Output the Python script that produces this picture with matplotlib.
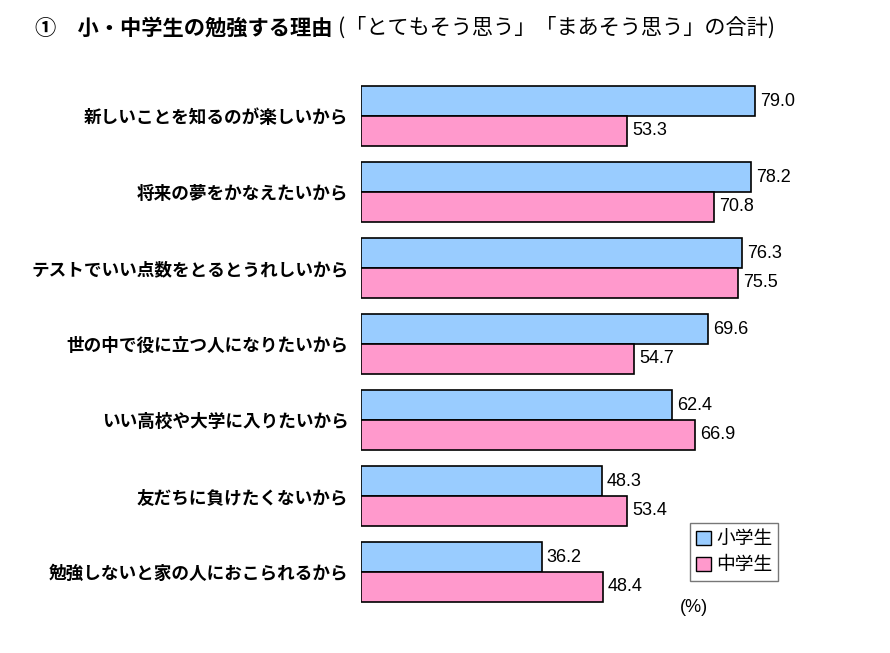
import matplotlib
matplotlib.use("Agg")
import matplotlib.pyplot as plt
from matplotlib.patches import Patch

plt.rcParams['font.family'] = ['Noto Sans CJK JP', 'DejaVu Sans']

categories = ["新しいことを知るのが楽しいから", "将来の夢をかなえたいから",
              "テストでいい点数をとるとうれしいから", "世の中で役に立つ人になりたいから",
              "いい高校や大学に入りたいから", "友だちに負けたくないから",
              "勉強しないと家の人におこられるから"]
elementary = [79.0, 78.2, 76.3, 69.6, 62.4, 48.3, 36.2]
junior = [53.3, 70.8, 75.5, 54.7, 66.9, 53.4, 48.4]
series_names = ["小学生", "中学生"]
colors = ["#99CCFF", "#FF99CC"]

W, H = 890, 653
fig = plt.figure(figsize=(W/100, H/100), dpi=100)
ax = fig.add_axes([361/W, 1-610/H, 499/W, 532/H])

n = len(categories)
ys = list(range(n))
bh = 0.39
ax.barh([y - bh/2 for y in ys], elementary, height=bh, color=colors[0],
        edgecolor="black", linewidth=1.2, label=series_names[0])
ax.barh([y + bh/2 for y in ys], junior, height=bh, color=colors[1],
        edgecolor="black", linewidth=1.2, label=series_names[1])
for y, v in zip(ys, elementary):
    ax.text(v + 1.0, y - bh/2, f"{v:.1f}", va="center", ha="left", fontsize=13,
            family="Liberation Sans", color="black")
for y, v in zip(ys, junior):
    ax.text(v + 1.0, y + bh/2, f"{v:.1f}", va="center", ha="left", fontsize=13,
            family="Liberation Sans", color="black")

ax.set_xlim(0, 100)
ax.set_ylim(n - 0.5, -0.5)
ax.set_yticks(ys)
ax.set_yticklabels(categories, fontsize=12.7, fontweight="bold")
ax.tick_params(axis="y", length=0, pad=9)
ax.set_xticks([])
for s in ax.spines.values():
    s.set_visible(False)

handles = [Patch(facecolor=colors[0], edgecolor="black"),
           Patch(facecolor=colors[1], edgecolor="black")]
leg = fig.legend(handles, series_names, loc="upper left",
                 bbox_to_anchor=(690/W, 1-523/H), fontsize=13.5,
                 frameon=True, fancybox=False, edgecolor="#555555",
                 handlelength=0.8, handleheight=0.8, handletextpad=0.3,
                 borderpad=0.3, labelspacing=0.25, borderaxespad=0)
leg.get_frame().set_linewidth(1.0)

fig.text(680/W, 1-607/H, "(%)", fontsize=13, va="center", ha="left",
         family="Liberation Sans")

fig.text(35/W, 1-28/H, "①　小・中学生の勉強する理由", fontsize=15.3, fontweight="bold",
         va="center", ha="left")
fig.text(338/W, 1-28/H, "(「とてもそう思う」「まあそう思う」の合計)", fontsize=15.2,
         va="center", ha="left")

fig.savefig("out.png", dpi=100)
